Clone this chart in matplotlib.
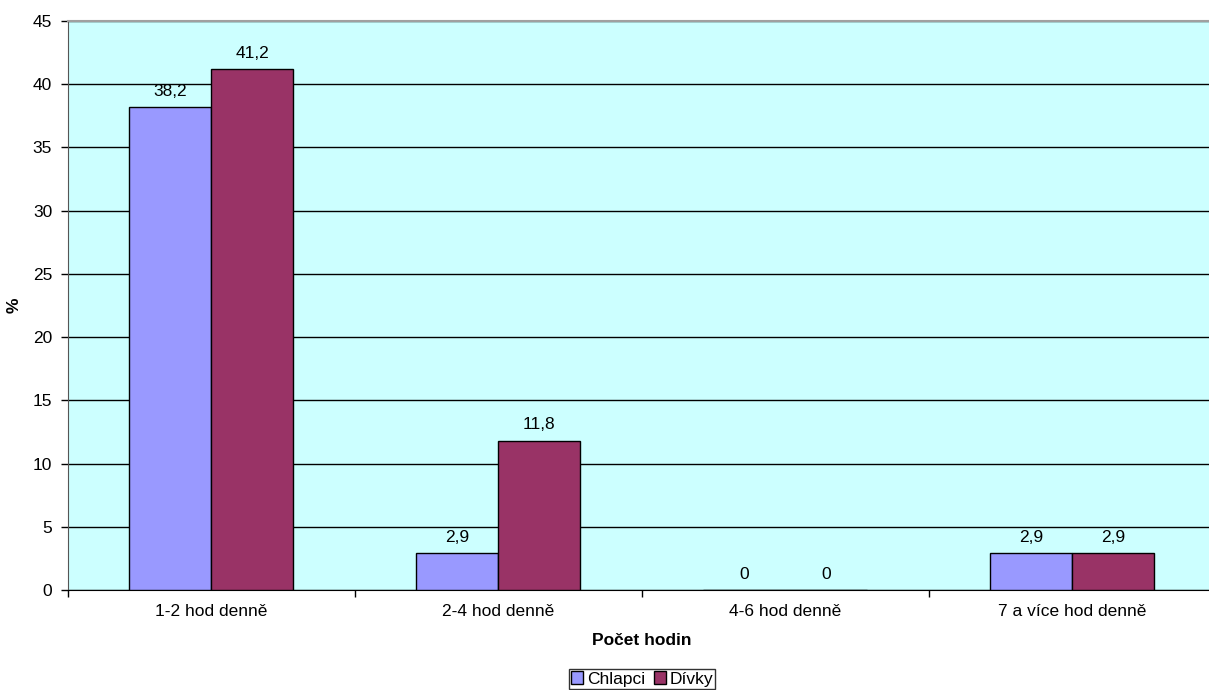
import numpy as np
import matplotlib.pyplot as plt
from matplotlib.patches import Patch

plt.rcParams['font.family'] = ['Liberation Sans', 'DejaVu Sans']

categories = ['1-2 hod denně', '2-4 hod denně', '4-6 hod denně', '7 a více hod denně']
chlapci = [38.2, 2.9, 0, 2.9]
divky = [41.2, 11.8, 0, 2.9]
series_names = ['Chlapci', 'Dívky']
colors = ['#9999FF', '#993366']

fs = 12.5

fig = plt.figure(figsize=(12.09, 6.9), dpi=100)
# plot area runs slightly past the right edge, as in the original
ax = fig.add_axes([67.5 / 1209, 1 - 590 / 690, (1215.5 - 67.5) / 1209, (590 - 21) / 690])
ax.set_facecolor('#CCFFFF')

x = np.arange(len(categories))
w = 1 / 3.5
b1 = ax.bar(x - w / 2, chlapci, w, color=colors[0], edgecolor='black', linewidth=1, zorder=3)
b2 = ax.bar(x + w / 2, divky, w, color=colors[1], edgecolor='black', linewidth=1, zorder=3)

for bars, vals in ((b1, chlapci), (b2, divky)):
    for r, v in zip(bars, vals):
        lbl = ('%g' % v).replace('.', ',')
        ax.annotate(lbl, (r.get_x() + r.get_width() / 2, v), xytext=(0, 6),
                    textcoords='offset points', ha='center', va='bottom', fontsize=fs)

ax.set_xlim(-0.5, len(categories) - 0.5)
ax.set_ylim(0, 45)
ax.set_yticks(range(0, 46, 5))
ax.yaxis.grid(True, color='black', linewidth=1, zorder=0)
ax.set_axisbelow(True)

ax.set_xticks(x)
ax.set_xticklabels(categories, fontsize=fs)
ax.set_xticks(np.arange(-0.5, len(categories), 1), minor=True)
ax.tick_params(axis='x', which='major', length=0, pad=10)
ax.tick_params(axis='x', which='minor', length=5, width=1, direction='out')
ax.tick_params(axis='y', labelsize=fs, length=5, width=1, direction='out', pad=6)

ax.spines['top'].set_color('#A0A0A0')
ax.spines['top'].set_linewidth(1.5)
ax.spines['right'].set_visible(False)
ax.spines['left'].set_color('#555555')
ax.spines['bottom'].set_color('black')

ax.set_xlabel('Počet hodin', fontsize=fs, fontweight='bold', labelpad=10)
ax.set_ylabel('%', fontsize=fs, fontweight='bold', labelpad=8)

handles = [Patch(facecolor=c, edgecolor='black', label=n) for c, n in zip(colors, series_names)]
leg = fig.legend(handles=handles, loc='center', bbox_to_anchor=(642 / 1209, 1 - 679 / 690),
                 ncol=2, fontsize=fs, frameon=True, fancybox=False, edgecolor='black',
                 handlelength=0.7, handleheight=0.7, handletextpad=0.2, columnspacing=0.5,
                 borderpad=0.15, borderaxespad=0)
leg.get_frame().set_linewidth(1)

fig.savefig('out.png', dpi=100)
